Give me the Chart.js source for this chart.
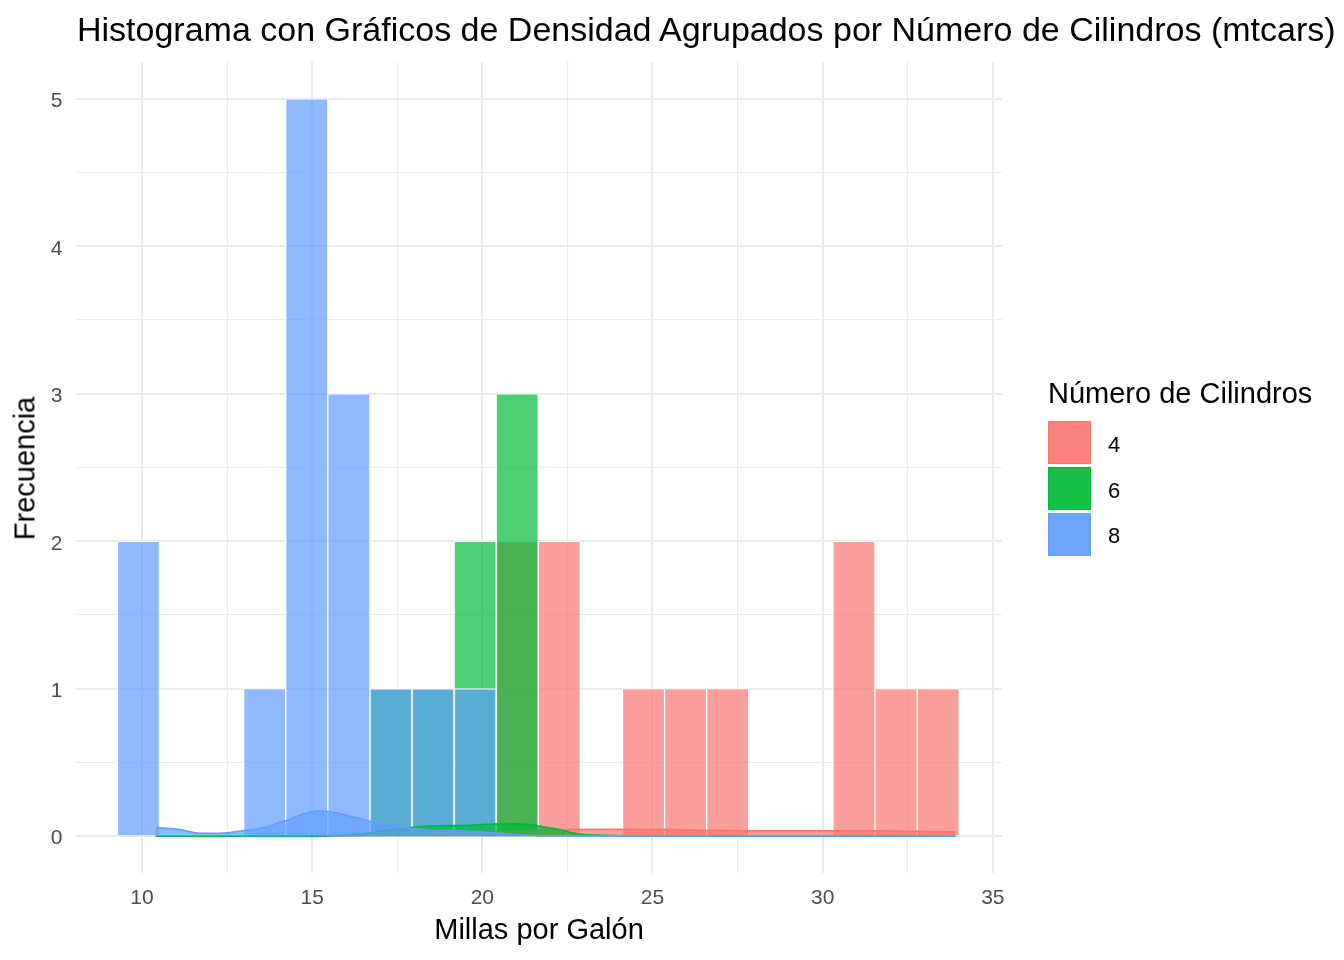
<html>
  <head>
    <title>Histograma mtcars</title>
    <script src="https://cdn.jsdelivr.net/npm/chart.js"></script>
    <style>
      body {
        margin: 0;
        padding: 0;
        background-color: #ffffff;
        font-family: "Liberation Sans", Arial, sans-serif;
      }
      .wrap {
        position: relative;
        width: 1344px;
        height: 960px;
      }
      .txt {
        position: absolute;
        white-space: nowrap;
        color: #000000;
        line-height: 1;
      }
      .plot-title { left: 77px; top: 12px; font-size: 34px; }
      .x-title { left: 339px; width: 400px; top: 915px; font-size: 29px; text-align: center; }
      .y-title {
        left: -75px; width: 200px; top: 453.5px; height: 29px;
        font-size: 29px; text-align: center; transform: rotate(-90deg);
      }
      .legend-title { left: 1048px; top: 378.8px; font-size: 29px; }
      .key {
        position: absolute;
        left: 1048px;
        width: 41px;
        height: 41px;
        border: 1.5px solid;
      }
      .key-label { left: 1108px; font-size: 22px; }
    </style>
  </head>
  <body>
    <div class="wrap">
      <canvas id="histChart" width="1344" height="960"></canvas>

      <div class="txt plot-title">Histograma con Gráficos de Densidad Agrupados por Número de Cilindros (mtcars)</div>
      <div class="txt x-title">Millas por Galón</div>
      <div class="txt y-title">Frecuencia</div>

      <!-- legend -->
      <div class="txt legend-title">Número de Cilindros</div>
      <div class="key" style="top:421px; background:#F9837B; border-color:#F8766D;"></div>
      <div class="key" style="top:467px; background:#16BF48; border-color:#00BA38;"></div>
      <div class="key" style="top:512.5px; background:#6DA4FE; border-color:#619CFF;"></div>
      <div class="txt key-label" style="top:434px;">4</div>
      <div class="txt key-label" style="top:479.7px;">6</div>
      <div class="txt key-label" style="top:525.4px;">8</div>
    </div>

    <script>
      // histogram bins (centers) and counts per cylinder group
      const binCenters = [9.894, 11.131, 12.368, 13.605, 14.842, 16.078, 17.315, 18.552, 19.789, 21.026,
                          22.263, 23.500, 24.737, 25.973, 27.210, 28.447, 29.684, 30.921, 32.158, 33.394];
      const counts4 = [0, 0, 0, 0, 0, 0, 0, 0, 0, 2, 2, 0, 1, 1, 1, 0, 0, 2, 1, 1];
      const counts6 = [0, 0, 0, 0, 0, 0, 1, 1, 2, 3, 0, 0, 0, 0, 0, 0, 0, 0, 0, 0];
      const counts8 = [2, 0, 0, 1, 5, 3, 1, 1, 1, 0, 0, 0, 0, 0, 0, 0, 0, 0, 0, 0];

      // density curves
      const dens4X = [10.4, 15.0, 17.0, 18.5, 20.0, 21.5, 22.6, 24.2, 25.5, 26.4, 28.0, 30.0, 32.4, 33.0, 33.9];
      const dens4Y = [0, 0.001, 0.005, 0.014, 0.027, 0.04, 0.045, 0.046, 0.044, 0.039, 0.036, 0.036, 0.035, 0.031, 0.03];
      const dens6X = [10.4, 15.0, 15.6, 16.3, 17.0, 17.6, 17.9, 18.7, 19.5, 20.1, 20.8, 21.3, 21.6, 22.0, 22.35, 22.6, 22.9, 23.5, 25.0, 33.9];
      const dens6Y = [0, 0, 0.004, 0.013, 0.032, 0.05, 0.058, 0.07, 0.072, 0.08, 0.085, 0.08, 0.07, 0.055, 0.04, 0.025, 0.013, 0.006, 0.001, 0];
      const dens8X = [10.4, 11.1, 11.7, 12.3, 13.0, 13.4, 13.8, 14.0, 14.3, 14.6, 15.2, 15.8, 16.1, 16.5, 16.8, 17.2, 17.6, 18.0, 18.5, 19.5, 20.1, 20.9, 21.5, 23.0, 26.0, 30.0, 33.9];
      const dens8Y = [0.058, 0.045, 0.02, 0.02, 0.038, 0.05, 0.07, 0.09, 0.11, 0.14, 0.172, 0.155, 0.135, 0.115, 0.092, 0.074, 0.062, 0.049, 0.04, 0.035, 0.025, 0.013, 0.004, 0.002, 0.002, 0.002, 0.002];

      const xTicks = [10, 12.5, 15, 17.5, 20, 22.5, 25, 27.5, 30, 32.5, 35];
      const yTicks = [0, 0.5, 1, 1.5, 2, 2.5, 3, 3.5, 4, 4.5, 5];

      const red = '248, 118, 109';
      const green = '0, 186, 56';
      const blue = '97, 156, 255';

      function bars(counts) {
        return binCenters.map((x, i) => ({ x: x, y: counts[i] })).filter(p => p.y > 0);
      }
      function curve(xs, ys) {
        return xs.map((x, i) => ({ x: x, y: ys[i] }));
      }
      function barSet(label, counts, rgb, order) {
        return {
          type: 'bar',
          label: label,
          data: bars(counts),
          backgroundColor: 'rgba(' + rgb + ', 0.7)',
          borderColor: '#ffffff',
          borderWidth: 1,
          borderSkipped: 'start',
          barPercentage: 1,
          categoryPercentage: 1,
          grouped: false,
          order: order
        };
      }
      function densSet(label, xs, ys, rgb, order) {
        return {
          type: 'line',
          label: label,
          data: curve(xs, ys),
          borderColor: 'rgb(' + rgb + ')',
          backgroundColor: 'rgba(' + rgb + ', 0.7)',
          borderWidth: 1.6,
          fill: 'origin',
          pointRadius: 0,
          cubicInterpolationMode: 'monotone',
          order: order
        };
      }

      const isMajorX = v => Math.abs(v - Math.round(v / 5) * 5) < 1e-9;
      const gridWidth = (c, major) => (c.tick && major(c.tick.value)) ? 2 : 1.1;

      new Chart(document.getElementById('histChart').getContext('2d'), {
        type: 'bar',
        data: {
          datasets: [
            densSet('8', dens8X, dens8Y, blue, 0),
            densSet('6', dens6X, dens6Y, green, 1),
            densSet('4', dens4X, dens4Y, red, 2),
            barSet('8', counts8, blue, 3),
            barSet('6', counts6, green, 4),
            barSet('4', counts4, red, 5)
          ]
        },
        options: {
          responsive: false,
          animation: false,
          layout: { padding: { top: 62, right: 342, bottom: 0, left: 0 } },
          plugins: {
            legend: { display: false },
            tooltip: { enabled: false }
          },
          scales: {
            x: {
              type: 'linear',
              min: 8.06,
              max: 35.27,
              offset: false,
              border: { display: false },
              afterBuildTicks: s => { s.ticks = xTicks.map(v => ({ value: v })); },
              afterFit: s => { s.height = 87; },
              grid: {
                offset: false,
                drawTicks: false,
                color: '#EBEBEB',
                lineWidth: c => gridWidth(c, isMajorX)
              },
              ticks: {
                padding: 13,
                color: '#4D4D4D',
                font: { family: '"Liberation Sans", Arial, sans-serif', size: 21 },
                maxRotation: 0,
                callback: v => isMajorX(v) ? String(v) : ''
              }
            },
            y: {
              min: -0.25,
              max: 5.25,
              border: { display: false },
              afterBuildTicks: s => { s.ticks = yTicks.map(v => ({ value: v })); },
              afterFit: s => { s.width = 76; },
              grid: {
                drawTicks: false,
                color: '#EBEBEB',
                lineWidth: c => gridWidth(c, Number.isInteger)
              },
              ticks: {
                padding: 13.5,
                labelOffset: 2.5,
                color: '#4D4D4D',
                font: { family: '"Liberation Sans", Arial, sans-serif', size: 21 },
                callback: v => Number.isInteger(v) ? String(v) : ''
              }
            }
          }
        }
      });
    </script>
  </body>
</html>
